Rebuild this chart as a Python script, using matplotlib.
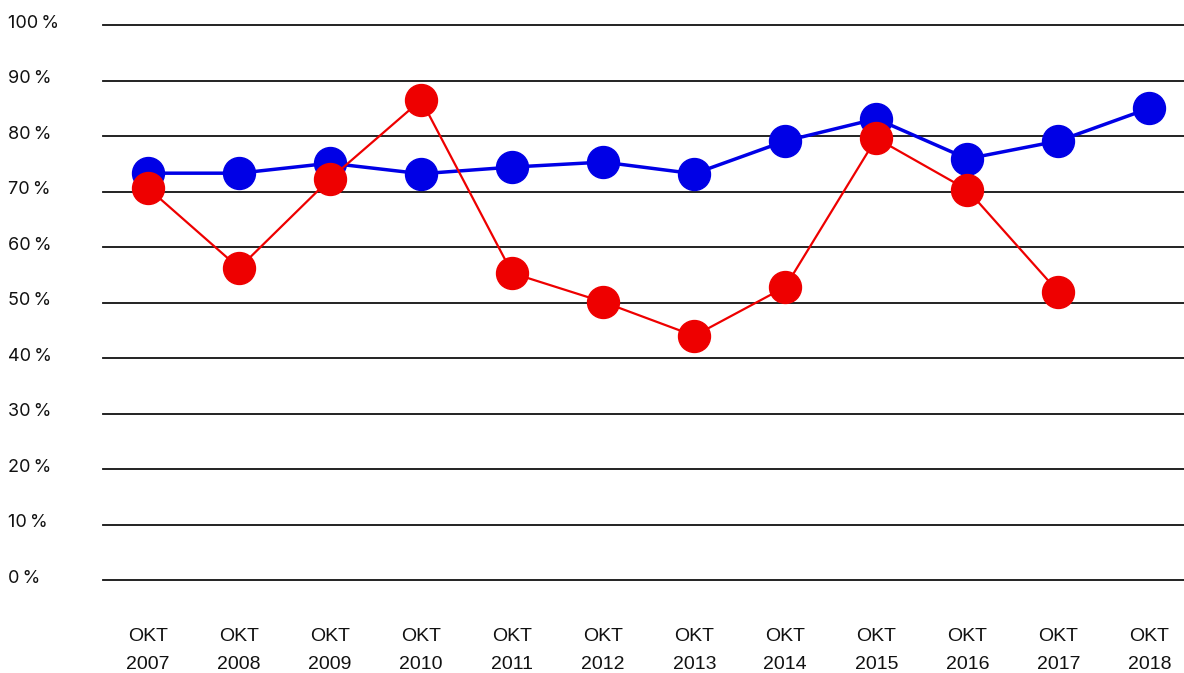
import matplotlib.pyplot as plt
from matplotlib.transforms import blended_transform_factory

years = ['2007', '2008', '2009', '2010', '2011', '2012', '2013', '2014', '2015', '2016', '2017', '2018']
blue = [73.3, 73.3, 75.1, 73.2, 74.4, 75.3, 73.2, 79.1, 83.1, 75.9, 79.1, 85.0]
red = [70.6, 56.2, 72.3, 86.5, 55.3, 50.1, 44.0, 52.8, 79.6, 70.3, 51.9]
yticks = [0, 10, 20, 30, 40, 50, 60, 70, 80, 90, 100]

fig = plt.figure(figsize=(11.84, 6.73), dpi=100)
ax = fig.add_axes([103/1184, 1-580/673, 1-103/1184, (580-25)/673])

x = list(range(len(years)))
ax.plot(x, blue, color='#0000e6', lw=2.5, marker='o', ms=23, mec='#0000e6', clip_on=False, zorder=3)
ax.plot(x[:len(red)], red, color='#ee0000', lw=1.6, marker='o', ms=23, mec='#ee0000', clip_on=False, zorder=4)

ax.set_ylim(0, 100)
ax.set_xlim(-0.495, 11.38)
for v in yticks:
    ax.axhline(v, color='#111111', lw=1.3, zorder=1, clip_on=False)

for s in ax.spines.values():
    s.set_visible(False)
ax.set_xticks([])
ax.set_yticks([])

tr = blended_transform_factory(fig.transFigure, ax.transData)
for v in yticks:
    ax.text(8/1184, v + 0.3, f'{v}\u2009%', transform=tr, ha='left', va='center',
            fontsize=13, family=['Inter', 'DejaVu Sans'], color='#111111')

for i, y in enumerate(years):
    ax.text(i, -10.1, 'OKT', ha='center', va='center', fontsize=14,
            family=['Liberation Sans'], color='#111111')
    ax.text(i, -15.2, y, ha='center', va='center', fontsize=14,
            family=['Liberation Sans'], color='#111111')

fig.savefig('out.png', dpi=100)
